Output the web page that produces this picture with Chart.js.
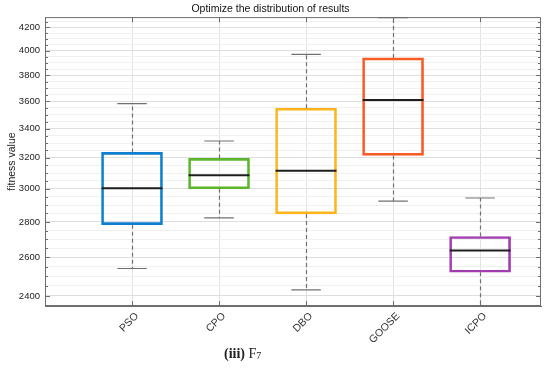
<!DOCTYPE html>
<html lang="en">
<head>
<meta charset="UTF-8" />
<title>Boxplot</title>
<script src="https://cdn.jsdelivr.net/npm/chart.js"></script>
<style>
  body { margin: 0; background: #fff; }
  .wrap { position: relative; width: 550px; height: 370px; }
  .caption { position: absolute; left: 224px; top: 346px; font-family: "Liberation Serif", "DejaVu Serif", serif; font-size: 14px; color: #222; }
  .caption sub { font-size: 10px; vertical-align: -1px; }
</style>
</head>
<body>
<div class="wrap">
  <canvas id="chart" width="550" height="370"></canvas>
  <div class="caption"><b>(iii)</b> F<sub>7</sub></div>
</div>
<script>
// data
const labels = ['PSO', 'CPO', 'DBO', 'GOOSE', 'ICPO'];
const lowWhisker = [2541, 2824, 2430, 2924, 2352];
const q1 = [2784, 3000, 2847, 3216, 2521];
const medians = [3003, 3085, 3115, 3610, 2638];
const q3 = [3236, 3196, 3548, 3940, 2716];
const highWhisker = [3583, 3314, 3970, 4286, 2943];
const yTickLabels = [2400, 2600, 2800, 3000, 3200, 3400, 3600, 3800, 4000, 4200];
const boxColors = ['#0c7fd0', '#5cb62b', '#ffb41c', '#fb5b22', '#a23db1'];

const yMin = 2350, yMax = 4290;
const frameColor = '#6e6e6e';

// whiskers, caps, medians, frame and inside tick marks
const boxExtras = {
    id: 'boxExtras',
    afterDatasetsDraw(chart) {
        const c = chart.ctx, x = chart.scales.x, y = chart.scales.y;
        c.save();
        labels.forEach((name, i) => {
            const cx = Math.round(x.getPixelForValue(i + 1)) + 0.5;
            const capL = x.getPixelForValue(i + 1 - 0.17), capR = x.getPixelForValue(i + 1 + 0.17);
            c.strokeStyle = '#707070';
            c.lineWidth = 1.2;
            c.setLineDash([4, 3]);
            c.beginPath();
            c.moveTo(cx, y.getPixelForValue(q3[i])); c.lineTo(cx, y.getPixelForValue(highWhisker[i]));
            c.moveTo(cx, y.getPixelForValue(q1[i])); c.lineTo(cx, y.getPixelForValue(lowWhisker[i]));
            c.stroke();
            c.setLineDash([]);
            c.beginPath();
            c.moveTo(capL, y.getPixelForValue(highWhisker[i])); c.lineTo(capR, y.getPixelForValue(highWhisker[i]));
            c.moveTo(capL, y.getPixelForValue(lowWhisker[i])); c.lineTo(capR, y.getPixelForValue(lowWhisker[i]));
            c.stroke();
            // median
            c.strokeStyle = '#1e1e1e';
            c.lineWidth = 2;
            c.beginPath();
            c.moveTo(x.getPixelForValue(i + 1 - 0.35), y.getPixelForValue(medians[i]));
            c.lineTo(x.getPixelForValue(i + 1 + 0.35), y.getPixelForValue(medians[i]));
            c.stroke();
        });
        const a = chart.chartArea;
        c.strokeStyle = frameColor;
        c.lineWidth = 1;
        c.strokeRect(a.left + 0.5, a.top + 0.5, a.right - a.left - 1, a.bottom - a.top - 1);
        c.beginPath();
        y.ticks.forEach(t => {
            const py = Math.round(y.getPixelForValue(t.value)) + 0.5;
            const len = t.value % 200 === 0 ? 5 : 3;
            c.moveTo(a.left, py); c.lineTo(a.left + len, py);
            c.moveTo(a.right, py); c.lineTo(a.right - len, py);
        });
        x.ticks.forEach(t => {
            const px = Math.round(x.getPixelForValue(t.value)) + 0.5;
            c.moveTo(px, a.top); c.lineTo(px, a.top + 5);
            c.moveTo(px, a.bottom); c.lineTo(px, a.bottom - 5);
        });
        c.stroke();
        c.restore();
    }
};

new Chart(document.getElementById('chart'), {
    type: 'bar',
    data: {
        datasets: [{
            data: labels.map((l, i) => ({ x: i + 1, y: [q1[i], q3[i]] })),
            backgroundColor: 'rgba(0,0,0,0)',
            borderColor: boxColors,
            borderWidth: 2,
            borderSkipped: false,
            barThickness: 61
        }]
    },
    options: {
        responsive: false,
        animation: false,
        layout: { padding: { left: 0, right: 9, top: 0, bottom: 0 } },
        plugins: {
            legend: { display: false },
            tooltip: { enabled: false },
            title: {
                display: true,
                text: 'Optimize the distribution of results',
                color: '#111',
                font: { family: 'Liberation Sans, Arial, sans-serif', size: 10.5, weight: 'normal' },
                padding: { top: 3, bottom: 1.5 }
            }
        },
        scales: {
            x: {
                type: 'linear',
                min: 0,
                max: 5.7,
                offset: false,
                afterBuildTicks: s => { s.ticks = labels.map((l, i) => ({ value: i + 1 })); },
                afterFit: s => { s.height = 64; },
                ticks: {
                    autoSkip: false,
                    maxRotation: 45,
                    minRotation: 45,
                    padding: 4,
                    labelOffset: 5,
                    color: '#333',
                    font: { family: 'Liberation Sans, Arial, sans-serif', size: 10.5 },
                    callback: v => labels[v - 1] || ''
                },
                grid: { color: '#e2e2e2', drawTicks: false, offset: false },
                border: { color: frameColor }
            },
            y: {
                type: 'logarithmic',
                min: yMin,
                max: yMax,
                afterBuildTicks: s => {
                    const t = [];
                    for (let v = 2400; v <= 4250; v += 50) t.push({ value: v });
                    s.ticks = t;
                },
                afterFit: s => { s.width = 45; },
                ticks: {
                    autoSkip: false,
                    padding: 5,
                    color: '#222',
                    font: { family: 'Liberation Sans, Arial, sans-serif', size: 9.5 },
                    callback: v => yTickLabels.includes(v) ? String(v) : ''
                },
                grid: {
                    drawTicks: false,
                    color: c => c.tick && yTickLabels.includes(c.tick.value) ? '#dedede' : '#f0f0f0'
                },
                border: { color: frameColor },
                title: {
                    display: true,
                    text: 'fitness value',
                    color: '#222',
                    font: { family: 'Liberation Sans, Arial, sans-serif', size: 10.5 },
                    padding: { top: 6, bottom: 0 }
                }
            }
        }
    },
    plugins: [boxExtras]
});
</script>
</body>
</html>
